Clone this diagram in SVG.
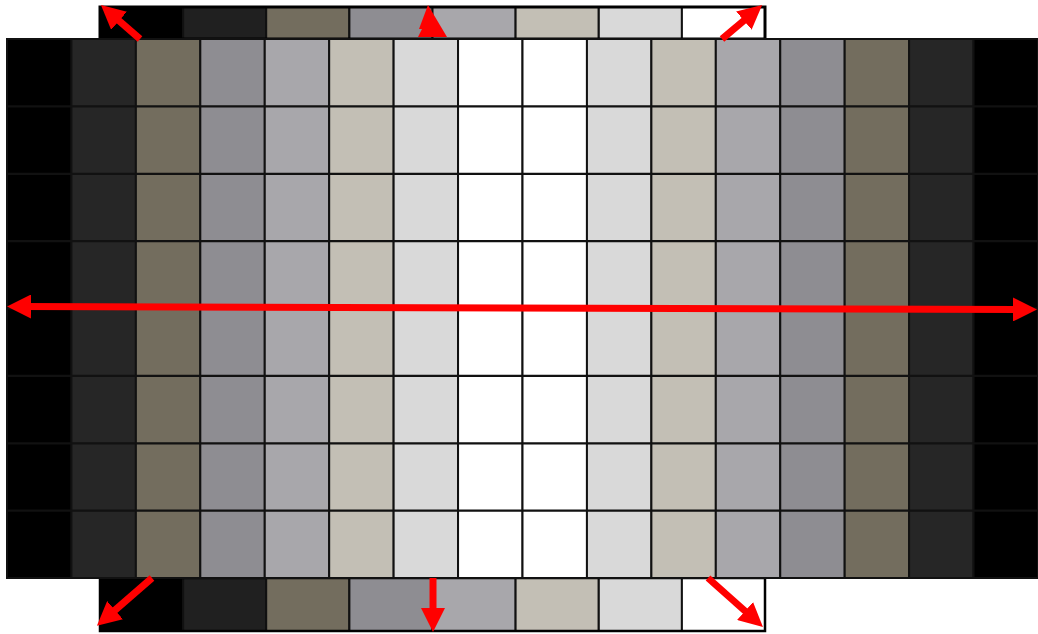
<svg xmlns="http://www.w3.org/2000/svg" width="1038" height="634" viewBox="0 0 1038 634">
<style>
.c{stroke:#111;stroke-width:2}
.k{fill:#000}.d{fill:#262626}.d2{fill:#202020}.t{fill:#736D5E}.g{fill:#8E8D92}.l{fill:#A8A7AB}.b{fill:#C3BFB5}.s{fill:#D9D9D9}.w{fill:#FFF}
.row{stroke:#111;stroke-width:2.2}
.arr{stroke:#FF0000;stroke-width:7;fill:none;marker-end:url(#ah)}
</style>
<defs>
<marker id="ah" markerUnits="userSpaceOnUse" markerWidth="24" markerHeight="24" refX="12" refY="12" orient="auto-start-reverse" viewBox="0 0 24 24">
<path d="M0,0 L24,12 L0,24 z" fill="#FF0000"/>
</marker>
</defs>
<rect width="1038" height="634" fill="#fff"/>
<g id="top-strip">
<rect class="c k" x="100" y="7" width="83.1" height="32"/>
<rect class="c d2" x="183.1" y="7" width="83.1" height="32"/>
<rect class="c t" x="266.2" y="7" width="83.1" height="32"/>
<rect class="c g" x="349.4" y="7" width="83.1" height="32"/>
<rect class="c l" x="432.5" y="7" width="83.1" height="32"/>
<rect class="c b" x="515.6" y="7" width="83.1" height="32"/>
<rect class="c s" x="598.8" y="7" width="83.1" height="32"/>
<rect class="c w" x="681.9" y="7" width="83.1" height="32"/>
<rect x="100" y="7" width="665" height="32" fill="none" stroke="#000" stroke-width="3"/>
</g>
<g id="bottom-strip">
<rect class="c k" x="100" y="578" width="83.1" height="53"/>
<rect class="c d2" x="183.1" y="578" width="83.1" height="53"/>
<rect class="c t" x="266.2" y="578" width="83.1" height="53"/>
<rect class="c g" x="349.4" y="578" width="83.1" height="53"/>
<rect class="c l" x="432.5" y="578" width="83.1" height="53"/>
<rect class="c b" x="515.6" y="578" width="83.1" height="53"/>
<rect class="c s" x="598.8" y="578" width="83.1" height="53"/>
<rect class="c w" x="681.9" y="578" width="83.1" height="53"/>
<rect x="100" y="578" width="665" height="53" fill="none" stroke="#000" stroke-width="2.5"/>
</g>
<g id="grid">
<rect class="c k" x="7" y="39" width="64.44" height="539"/>
<rect class="c d" x="71.44" y="39" width="64.44" height="539"/>
<rect class="c t" x="135.88" y="39" width="64.44" height="539"/>
<rect class="c g" x="200.31" y="39" width="64.44" height="539"/>
<rect class="c l" x="264.75" y="39" width="64.44" height="539"/>
<rect class="c b" x="329.19" y="39" width="64.44" height="539"/>
<rect class="c s" x="393.63" y="39" width="64.44" height="539"/>
<rect class="c w" x="458.06" y="39" width="64.44" height="539"/>
<rect class="c w" x="522.5" y="39" width="64.44" height="539"/>
<rect class="c s" x="586.94" y="39" width="64.44" height="539"/>
<rect class="c b" x="651.38" y="39" width="64.44" height="539"/>
<rect class="c l" x="715.81" y="39" width="64.44" height="539"/>
<rect class="c g" x="780.25" y="39" width="64.44" height="539"/>
<rect class="c t" x="844.69" y="39" width="64.44" height="539"/>
<rect class="c d" x="909.13" y="39" width="64.44" height="539"/>
<rect class="c k" x="973.56" y="39" width="64.44" height="539"/>
<path class="row" d="M7,106.4H1038M7,173.8H1038M7,241.1H1038M7,308.5H1038M7,375.9H1038M7,443.3H1038M7,510.6H1038"/>
<rect x="7" y="39" width="1031" height="539" fill="none" stroke="#111" stroke-width="2"/>
</g>
<g id="connectors">
<line class="arr" x1="19" y1="306.5" x2="1025" y2="309.5" style="marker-start:url(#ah)"/>
<line class="arr" x1="140" y1="39" x2="110" y2="12.9"/>
<polygon points="428,5 447,37 418,37 422,29 419,29" fill="#FF0000"/>
<line class="arr" x1="722" y1="39" x2="753" y2="12.8"/>
<line class="arr" x1="152" y1="578" x2="106" y2="618"/>
<line class="arr" x1="433" y1="578" x2="433" y2="620"/>
<line class="arr" x1="708" y1="578" x2="754" y2="619"/>
</g>
</svg>
